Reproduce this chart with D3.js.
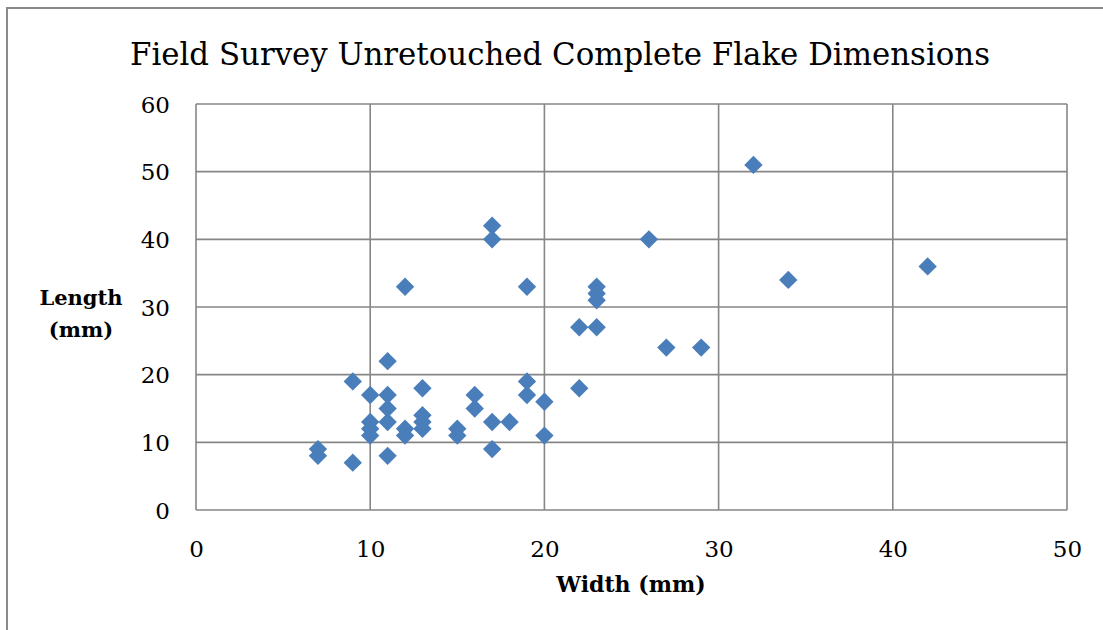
<!DOCTYPE html>
<html>
<head>
<meta charset="utf-8">
<script src="https://cdn.jsdelivr.net/npm/d3@7"></script>
<style>
  html, body { margin: 0; padding: 0; background: #fff; }
  svg { display: block; }
</style>
</head>
<body>
<svg id="chart" width="1103" height="630"></svg>
<script>
// Flake measurements (mm): width and length of each complete unretouched flake
const widths  = [7, 7, 9, 9, 10, 10, 10, 10, 11, 11, 11, 11, 11, 12, 12, 12, 13, 13, 13, 13,
                 15, 15, 16, 16, 17, 17, 17, 17, 18, 19, 19, 19, 20, 20, 22, 22, 23, 23, 23, 23,
                 26, 27, 29, 32, 34, 42];
const lengths = [9, 8, 19, 7, 17, 13, 12, 11, 22, 17, 15, 13, 8, 33, 12, 11, 18, 14, 13, 12,
                 12, 11, 17, 15, 42, 40, 13, 9, 13, 33, 19, 17, 16, 11, 27, 18, 33, 32, 31, 27,
                 40, 24, 24, 51, 34, 36];
const xTicks = [0, 10, 20, 30, 40, 50];
const yTicks = [0, 10, 20, 30, 40, 50, 60];

const titleText = "Field Survey Unretouched Complete Flake Dimensions";
const xTitle = "Width (mm)";
const yTitleLines = ["Length", "(mm)"];

const svg = d3.select("#chart");
const serif = "'DejaVu Serif', 'Liberation Serif', serif";
const gridColor = "#868686";

// Outer chart frame (top and left edges visible)
svg.append("path")
  .attr("d", "M7,630 V8 H1103")
  .attr("fill", "none")
  .attr("stroke", "#8a8a8a")
  .attr("stroke-width", 2);

const plot = { left: 196, right: 1067, top: 104, bottom: 510 };

const x = d3.scaleLinear().domain([0, 50]).range([plot.left, plot.right]);
const y = d3.scaleLinear().domain([0, 60]).range([plot.bottom, plot.top]);

// Gridlines
const grid = svg.append("g");
grid.selectAll("line.h").data(yTicks).join("line")
  .attr("x1", plot.left).attr("x2", plot.right)
  .attr("y1", d => y(d)).attr("y2", d => y(d))
  .attr("stroke", gridColor).attr("stroke-width", 1.6);
grid.selectAll("line.v").data(xTicks).join("line")
  .attr("y1", plot.top).attr("y2", plot.bottom)
  .attr("x1", d => x(d)).attr("x2", d => x(d))
  .attr("stroke", gridColor).attr("stroke-width", 1.6);

// Axes with labels only (lines come from the grid)
const xAxis = d3.axisBottom(x).tickValues(xTicks).tickSize(0).tickPadding(0);
svg.append("g")
  .attr("transform", `translate(0,${plot.bottom})`)
  .call(xAxis)
  .call(g => g.select(".domain").remove())
  .call(g => g.selectAll("text")
    .attr("font-family", serif).attr("font-size", 23).attr("fill", "#000")
    .attr("dy", null).attr("y", 47));

const yAxis = d3.axisLeft(y).tickValues(yTicks).tickSize(0).tickPadding(0);
svg.append("g")
  .attr("transform", `translate(${plot.left},0)`)
  .call(yAxis)
  .call(g => g.select(".domain").remove())
  .call(g => g.selectAll("text")
    .attr("font-family", serif).attr("font-size", 23).attr("fill", "#000")
    .attr("x", -26).attr("dy", "0.36em"));

// Diamond markers
const diamond = d3.symbol().type(d3.symbolDiamond2).size(215);
svg.append("g").selectAll("path").data(widths.map((w, i) => [w, lengths[i]])).join("path")
  .attr("d", diamond)
  .attr("transform", d => `translate(${x(d[0])},${y(d[1])})`)
  .attr("fill", "#4A7EBB");

// Title
svg.append("text")
  .attr("x", 560).attr("y", 65)
  .attr("text-anchor", "middle")
  .attr("font-family", serif).attr("font-size", 32)
  .attr("textLength", 860).attr("lengthAdjust", "spacingAndGlyphs")
  .attr("fill", "#000")
  .text(titleText);

// Axis titles
svg.append("text")
  .attr("x", 631).attr("y", 592)
  .attr("text-anchor", "middle")
  .attr("font-family", serif).attr("font-size", 22).attr("font-weight", "bold")
  .attr("fill", "#000")
  .text(xTitle);

svg.append("text")
  .attr("text-anchor", "middle")
  .attr("font-family", serif).attr("font-size", 21).attr("font-weight", "bold")
  .attr("fill", "#000")
  .selectAll("tspan").data(yTitleLines).join("tspan")
  .attr("x", 81).attr("y", (d, i) => 305 + i * 32)
  .text(d => d);
</script>
</body>
</html>
